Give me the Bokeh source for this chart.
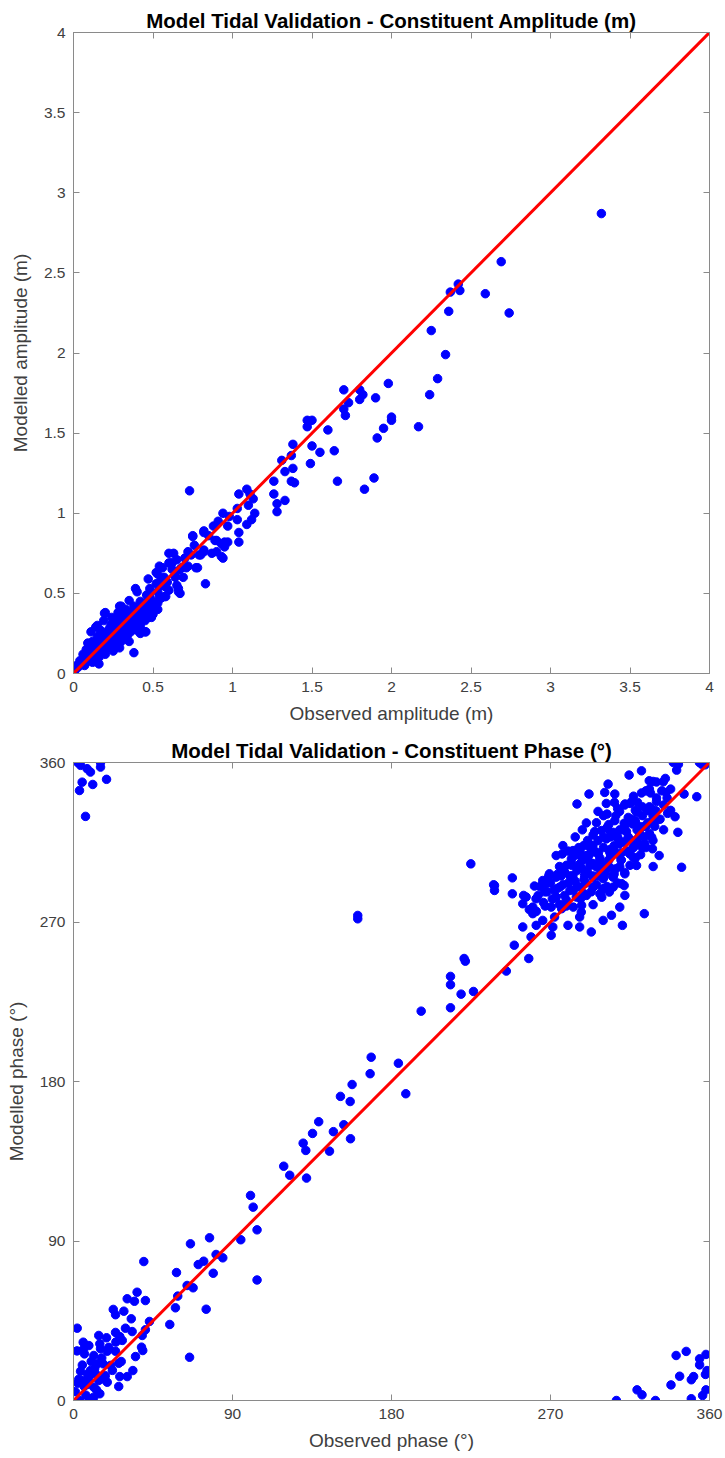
from bokeh.plotting import figure
from bokeh.layouts import column
from bokeh.models import Range1d, LinearAxis, FixedTicker
from bokeh.embed import file_html
from bokeh.resources import INLINE

# ---------------- data: amplitude (m) ----------------
obs_amp = [3.32, 2.69, 2.42, 2.37, 2.43, 2.59, 2.36, 2.74, 2.25, 2.34, 2.29,
           1.98, 2.24, 1.70, 1.80, 1.82, 1.80, 1.73, 1.90, 1.70, 1.71, 2.00, 2.00, 1.95, 2.17, 1.91,
           1.47, 1.50, 1.47, 1.60, 1.38, 1.50, 1.55, 1.64, 1.31, 1.37, 1.49, 1.38, 1.33, 1.26, 1.37,
           1.39, 1.66, 1.89, 1.83, 0.73, 1.04, 1.09, 1.11, 1.13, 1.26, 1.10, 1.28, 1.33, 1.28, 1.03,
           1.14, 0.94, 1.03, 1.12, 0.91, 0.88, 0.97, 1.09, 0.82, 1.04, 0.75, 0.90, 0.95, 0.97, 1.04,
           0.76, 0.95, 0.82, 0.87, 0.90, 0.79, 0.94, 0.72, 0.60, 0.63, 0.61, 0.65, 0.56, 0.78, 0.72,
           0.67, 0.64, 0.83, 0.58, 0.66, 0.67, 0.57, 0.53,
           0.75, 0.82, 0.89, 0.93, 0.82, 0.80, 0.93, 0.60, 0.54, 0.52, 0.47, 0.62, 0.68, 0.69, 0.64,
           0.77, 0.65, 0.66, 0.56, 0.60, 0.53, 0.39, 0.40, 0.48, 0.51, 0.53, 0.48, 0.43, 0.35, 0.30,
           0.33, 0.38, 0.445, 0.50, 0.28,
           0.20, 0.32, 0.46, 0.51, 0.53, 0.58, 0.46, 0.49, 0.42, 0.45, 0.37, 0.34, 0.35, 0.27, 0.23,
           0.19, 0.14, 0.11, 0.15, 0.09, 0.12, 0.19, 0.25, 0.29, 0.06, 0.04, 0.08, 0.02, 0.00, 0.38,
           0.16, 0.01,
           0.03, 0.05, 0.07, 0.09, 0.10, 0.11, 0.13, 0.13, 0.15, 0.16, 0.17, 0.18, 0.19, 0.20, 0.21,
           0.22, 0.22, 0.23, 0.24, 0.25, 0.26, 0.26, 0.27, 0.28, 0.29, 0.30, 0.31, 0.31, 0.32, 0.33,
           0.34, 0.35, 0.36, 0.37, 0.38, 0.39, 0.40, 0.41, 0.42, 0.43, 0.44, 0.45, 0.46, 0.48, 0.50,
           0.52, 0.54, 0.55, 0.57, 0.59, 0.62, 0.70, 0.71, 0.74, 0.85, 0.98,
           0.195, 0.29, 0.455, 0.42, 0.08, 0.12, 0.17, 0.15, 0.24, 0.28,
           0.20, 0.25, 0.30, 0.33, 0.36, 0.40, 0.43, 0.47, 0.50, 0.55, 0.16, 0.12, 0.28]
mod_amp = [2.87, 2.57, 2.43, 2.38, 2.39, 2.37, 2.26, 2.25, 2.14, 1.99, 1.84,
           1.81, 1.74, 1.77, 1.77, 1.74, 1.71, 1.69, 1.72, 1.65, 1.61, 1.60, 1.58, 1.53, 1.54, 1.47,
           1.58, 1.58, 1.54, 1.52, 1.43, 1.42, 1.38, 1.39, 1.33, 1.36, 1.31, 1.28, 1.26, 1.20, 1.20,
           1.19, 1.20, 1.22, 1.15, 1.14, 1.12, 1.15, 1.12, 1.09, 1.12, 1.05, 1.06, 1.08, 1.01, 1.03,
           1.00, 1.00, 0.96, 0.96, 0.95, 0.92, 0.92, 0.93, 0.89, 0.88, 0.86, 0.83, 0.82, 0.82, 0.82,
           0.80, 0.79, 0.77, 0.75, 0.76, 0.74, 0.72, 0.76, 0.75, 0.75, 0.69, 0.71, 0.66, 0.66, 0.67,
           0.65, 0.61, 0.56, 0.54, 0.53, 0.50, 0.48, 0.62,
           0.855, 0.88, 0.83, 0.81, 0.76, 0.74, 0.73, 0.69, 0.67, 0.63, 0.59, 0.65, 0.66, 0.60, 0.60,
           0.66, 0.55, 0.51, 0.55, 0.52, 0.51, 0.53, 0.51, 0.48, 0.43, 0.40, 0.40, 0.44, 0.455, 0.42,
           0.37, 0.38, 0.36, 0.37, 0.35,
           0.38, 0.38, 0.49, 0.41, 0.44, 0.48, 0.38, 0.35, 0.30, 0.26, 0.29, 0.24, 0.20, 0.23, 0.29,
           0.33, 0.29, 0.26, 0.23, 0.19, 0.15, 0.16, 0.19, 0.16, 0.12, 0.08, 0.07, 0.05, 0.03, 0.13,
           0.06, 0.02,
           0.04, 0.06, 0.05, 0.10, 0.08, 0.13, 0.11, 0.17, 0.14, 0.19, 0.13, 0.22, 0.18, 0.25, 0.20,
           0.16, 0.27, 0.22, 0.31, 0.25, 0.21, 0.29, 0.33, 0.26, 0.30, 0.24, 0.34, 0.28, 0.31, 0.40,
           0.29, 0.34, 0.38, 0.33, 0.42, 0.36, 0.31, 0.40, 0.45, 0.37, 0.42, 0.33, 0.44, 0.53, 0.45,
           0.56, 0.48, 0.58, 0.60, 0.57, 0.69, 0.72, 0.66, 0.74, 0.86, 0.98,
           0.376, 0.42, 0.26, 0.25, 0.15, 0.20, 0.27, 0.30, 0.35, 0.38,
           0.12, 0.14, 0.20, 0.22, 0.26, 0.27, 0.33, 0.35, 0.40, 0.47, 0.10, 0.07, 0.18]

# ---------------- data: phase (deg) ----------------
obs_pha = [2.4, 4.0, 7.7, 9.6, 15.3, 15.3, 4.9, 3.4, 10.9, 18.7, 6.8,
           # lower-left
           103.9, 103.9, 94.7, 77.0, 66.2, 80.7, 84.5, 73.7, 70.6, 79.1, 58.3, 39.8, 64.3, 67.7, 59.0,
           57.7, 75.1, 54.5, 65.7, 36.0, 40.7, 30.4, 34.5, 22.5, 28.5, 23.8, 32.7, 43.0, 40.7, 29.4,
           33.2, 23.8, 26.2, 38.9, 27.6, 2.1, 14.3, 18.7, 5.5, 8.7, 5.8, 14.9, 15.3, 6.2, 11.5, 13.4,
           19.1, 23.8, 39.2, 38.5, 35.1, 25.6, 16.8, 21.0, 33.6, 30.4, 26.2, 25.6, 19.1, 4.0, 2.4, 5.8,
           9.6, 8.7, 12.5, 14.3, 11.5, 14.9, 9.2, 3.4, 11.5, 7.8, 16.8,
           # middle diagonal
           238.3, 238.3, 160.9, 160.9, 221.8, 245.0, 213.4, 213.4, 219.4, 226.4, 213.4, 196.8, 168.5,
           183.9, 167.9, 188.1, 157.7, 151.1, 156.6, 138.8, 135.3, 147.1, 153.0, 156.8, 144.9, 130.0,
           131.5, 119.0, 122.4, 131.9, 100.2, 101.7,
           # lower-right (wrapped)
           307.3, 319.0, 321.8, 329.4, 338.2, 341.1, 346.8, 343.1, 349.7, 351.0, 349.7, 354.4, 354.4,
           358.0, 358.6, 357.7, 358.0, 356.1,
           # upper-right cluster
           339.5, 342.4, 341.4, 354.3, 355.6, 357.5, 321.5, 314.5, 325.9, 328.1, 333.8, 302.6, 300.7,
           306.4, 321.5, 326.6, 335.4, 345.6, 352.8, 291.8, 285.0, 301.6, 306.2, 312.2, 315.1, 319.3,
           309.1, 296.9, 302.0, 318.8, 324.8, 336.3, 340.5, 329.6, 290.3, 306.4, 311.7, 316.4, 302.1,
           322.3, 327.9, 342.1, 298.8, 305.4, 309.2, 320.6, 327.3, 294.1, 296.9, 301.6, 307.4, 313.0,
           323.4, 316.8, 327.7, 331.5, 288.8, 292.2, 286.7, 277.0, 282.7, 276.6, 273.2, 281.8, 290.3,
           296.9, 303.5, 309.2, 314.9, 316.8, 318.7, 328.1, 344.2, 286.7, 292.4, 298.1, 303.5, 309.2,
           275.1, 277.9, 269.4, 273.2, 282.7, 289.3, 294.1, 299.8, 305.5, 312.1, 310.3, 305.5, 299.8,
           294.1, 286.7, 281.0, 275.3, 267.5, 265.6, 260.9, 266.7, 273.2, 278.9, 284.6, 290.3, 298.1,
           303.3, 311.7, 312.1, 294.1, 287.6, 282.9, 276.3, 270.4, 261.8, 256.2, 254.3, 260.0, 248.4,
           248.4, 237.8, 224.9, 254.8,
           221.1, 257.7, 249.5, 259.0, 254.3, 261.9, 270.4, 271.3, 279.9, 286.5, 293.1, 299.8, 310.7,
           304.5, 309.2, 323.1, 286.5, 287.4, 272.3, 265.6, 260.0,
           278, 280, 283, 285, 287, 288, 290, 291, 293, 294, 295, 296, 297, 298, 299, 300, 301, 302,
           303, 304, 305, 306, 307, 308, 309, 310, 311, 312, 313, 314, 315, 316, 317, 318, 319, 320,
           321, 322, 323, 324, 325, 326, 327, 328, 329, 330, 332, 334, 336, 338, 284, 286, 289, 292,
           296, 300, 304, 308, 312, 316, 271, 274, 276, 279, 282, 268, 266, 263, 270, 275]
mod_pha = [360.0, 358.4, 356.5, 354.6, 360.0, 357.4, 348.9, 344.2, 347.6, 350.5, 329.6,
           96.3, 68.0, 90.7, 91.8, 88.4, 82.4, 80.5, 78.6, 76.7, 71.8, 72.2, 78.4, 64.9, 63.6, 58.9,
           52.3, 51.5, 42.9, 24.4, 61.1, 56.4, 57.4, 56.0, 51.4, 50.4, 48.4, 46.1, 44.6, 39.9, 40.8,
           38.9, 38.4, 36.1, 36.7, 33.9, 40.8, 36.7, 35.4, 32.9, 31.0, 29.2, 32.0, 29.2, 26.3, 25.4, 20.7,
           27.8, 27.8, 28.2, 30.1, 24.8, 21.0, 20.7, 19.8, 16.9, 13.5, 13.5, 7.9, 10.3, 16.5, 9.8, 11.3,
           16.9, 13.1, 15.1, 11.3, 7.5, 3.8, 0.9, 0.0, 1.9, 9.0, 12.2,
           290.6, 287.8, 273.7, 271.8, 247.9, 242.3, 239.3, 234.6, 229.3, 230.8, 221.6, 219.7, 193.7,
           190.3, 184.4, 173.1, 178.3, 171.6, 168.7, 157.3, 150.7, 151.7, 155.6, 147.7, 140.7, 145.2,
           141.1, 132.2, 127.1, 125.5, 115.7, 109.1,
           0.0, 6.0, 3.2, 0.0, 8.8, 25.4, 27.7, 13.7, 11.7, 13.5, 1.0, 23.5, 20.1, 26.0, 16.9, 14.7,
           6.0, 2.8,
           360.0, 359.0, 355.7, 360.0, 359.0, 358.7, 355.3, 352.9, 349.7, 349.3, 349.1, 347.8, 343.1,
           342.2, 342.8, 342.8, 343.1, 342.2, 340.7, 342.2, 336.6, 336.9, 337.5, 336.6, 336.9, 337.5,
           332.4, 332.4, 330.9, 331.9, 332.8, 331.3, 329.4, 332.8, 325.9, 327.2, 325.7, 325.3, 323.4,
           323.8, 327.2, 320.6, 321.6, 320.6, 322.0, 319.7, 317.8, 319.1, 315.9, 316.9, 317.8, 315.9,
           314.1, 312.2, 311.3, 307.5, 313.1, 312.2, 310.3, 313.1, 310.3, 308.4, 307.5, 305.6, 307.5,
           308.4, 309.4, 307.5, 308.4, 306.6, 301.9, 301.3, 300.9, 302.8, 301.9, 300.0, 300.9, 301.3,
           301.3, 298.1, 297.2, 295.3, 296.3, 296.3, 295.3, 294.4, 295.3, 297.2, 291.6, 289.7, 288.8,
           289.7, 289.7, 287.8, 289.7, 291.6, 293.4, 290.3, 287.0, 284.1, 282.6, 284.1, 285.0, 285.9,
           286.9, 290.6, 285.0, 279.8, 279.4, 278.4, 277.5, 278.4, 283.1, 284.1, 280.3, 278.4, 294.9,
           285.9, 291.0, 302.8, 285.0,
           249.4, 249.4, 256.9, 261.6, 267.2, 268.1, 262.5, 267.2, 268.1, 267.2, 264.4, 270.9, 268.1,
           273.8, 278.4, 274.7, 272.8, 275.6, 272.8, 270.9, 274.7,
           285, 292, 288, 299, 283, 305, 292, 298, 287, 303, 310, 291, 296, 306, 284, 312, 298, 290,
           305, 318, 296, 310, 300, 292, 314, 305, 322, 298, 310, 318, 302, 328, 312, 306, 322, 314,
           308, 330, 318, 312, 326, 320, 334, 316, 324, 338, 328, 322, 340, 333, 293, 301, 286, 308,
           301, 295, 307, 318, 324, 316, 283, 289, 296, 279, 302, 287, 281, 285, 292, 280]

# additional points read from the dense core of the phase cluster and near the origin
obs_pha_core = [272, 274, 277, 279, 281, 283, 285, 286, 288, 289, 291, 292, 294, 295, 297, 298,
                300, 301, 303, 304, 306, 307, 309, 310, 312, 313, 315, 317, 318, 320, 322, 324,
                326, 328, 330, 331, 333, 335, 280, 284, 288, 292, 296, 300, 304, 308, 312, 316,
                320, 324, 278, 282, 286, 290, 294, 298, 302, 306, 310, 314, 318, 322, 326, 330,
                334, 338, 262, 264, 267, 269, 258,
                1, 3, 5, 6, 8, 10, 12, 13, 16, 18, 20, 22, 24, 27, 2, 7]
mod_pha_core = [288, 297, 291, 302, 296, 307, 290, 312, 300, 294, 316, 304, 296, 321, 309, 286,
                318, 302, 325, 311, 297, 330, 316, 305, 336, 321, 310, 341, 327, 318, 335, 324,
                345, 330, 340, 328, 344, 351, 310, 318, 322, 314, 326, 330, 320, 334, 315, 338,
                324, 344, 298, 303, 308, 297, 313, 305, 323, 313, 309, 329, 333, 312, 335, 349,
                336, 345, 276, 290, 279, 296, 277,
                5, 12, 20, 8, 15, 22, 18, 6, 24, 14, 30, 17, 33, 22, 28, 3]

amp_ticks = [0, 0.5, 1, 1.5, 2, 2.5, 3, 3.5, 4]
amp_tick_labels = ["0", "0.5", "1", "1.5", "2", "2.5", "3", "3.5", "4"]
pha_ticks = [0, 90, 180, 270, 360]
pha_tick_labels = ["0", "90", "180", "270", "360"]
amp_line = [0, 4]
pha_line = [0, 360]

FONT = "Liberation Sans"
AX_COL = "#8a8a8a"
LBL_COL = "#404040"


def style(p, ticks, labels):
    p.outline_line_color = AX_COL
    p.xgrid.visible = False
    p.ygrid.visible = False
    p.title.align = "center"
    p.title.text_font = FONT
    p.title.text_font_size = "20.5px"
    p.title.text_font_style = "bold"
    p.title.text_color = "black"
    p.title.standoff = 2
    overrides = {t: l for t, l in zip(ticks, labels)}
    for ax in [p.xaxis[0], p.yaxis[0]]:
        ax.ticker = FixedTicker(ticks=ticks)
        ax.major_label_overrides = overrides
        ax.axis_line_color = AX_COL
        ax.major_tick_line_color = AX_COL
        ax.major_tick_in = 6
        ax.major_tick_out = 0
        ax.minor_tick_line_color = None
        ax.major_label_text_font = FONT
        ax.major_label_text_font_size = "15.5px"
        ax.major_label_text_color = LBL_COL
        ax.axis_label_text_font = FONT
        ax.axis_label_text_font_size = "19px"
        ax.axis_label_text_font_style = "normal"
        ax.axis_label_text_color = LBL_COL
    p.xaxis[0].major_label_standoff = 8
    p.xaxis[0].axis_label_standoff = 8
    p.yaxis[0].major_label_standoff = 8
    p.yaxis[0].axis_label_standoff = 10
    blank = {t: "" for t in ticks}
    for loc in ["above", "right"]:
        a = LinearAxis(ticker=FixedTicker(ticks=ticks), major_label_overrides=blank,
                       major_label_text_font_size="2px",
                       major_label_standoff=0, axis_line_color=AX_COL,
                       major_tick_line_color=AX_COL, major_tick_in=6, major_tick_out=0,
                       minor_tick_line_color=None)
        p.add_layout(a, loc)


p1 = figure(width=725, height=735, output_backend="svg", toolbar_location=None,
            x_range=Range1d(0, 4), y_range=Range1d(0, 4),
            title="Model Tidal Validation - Constituent Amplitude (m)",
            x_axis_label="Observed amplitude (m)", y_axis_label="Modelled amplitude (m)",
            min_border_left=67, min_border_right=16, min_border_top=32, min_border_bottom=62)
style(p1, amp_ticks, amp_tick_labels)
p1.scatter(obs_amp, mod_amp, size=8.5, fill_color="#0000FF", line_color="#0000FF")
p1.line(amp_line, amp_line, line_color="#FF0000", line_width=3)

p2 = figure(width=725, height=723, output_backend="svg", toolbar_location=None,
            x_range=Range1d(0, 360), y_range=Range1d(0, 360),
            title="Model Tidal Validation - Constituent Phase (°)",
            x_axis_label="Observed phase (°)", y_axis_label="Modelled phase (°)",
            min_border_left=73, min_border_right=16, min_border_top=27, min_border_bottom=58)
style(p2, pha_ticks, pha_tick_labels)
p2.scatter(obs_pha, mod_pha, size=8.5, fill_color="#0000FF", line_color="#0000FF")
p2.scatter(obs_pha_core, mod_pha_core, size=8.5, fill_color="#0000FF", line_color="#0000FF")
p2.line(pha_line, pha_line, line_color="#FF0000", line_width=3)

layout = column(p1, p2, spacing=0)
open("out.html", "w").write(file_html(layout, INLINE))
